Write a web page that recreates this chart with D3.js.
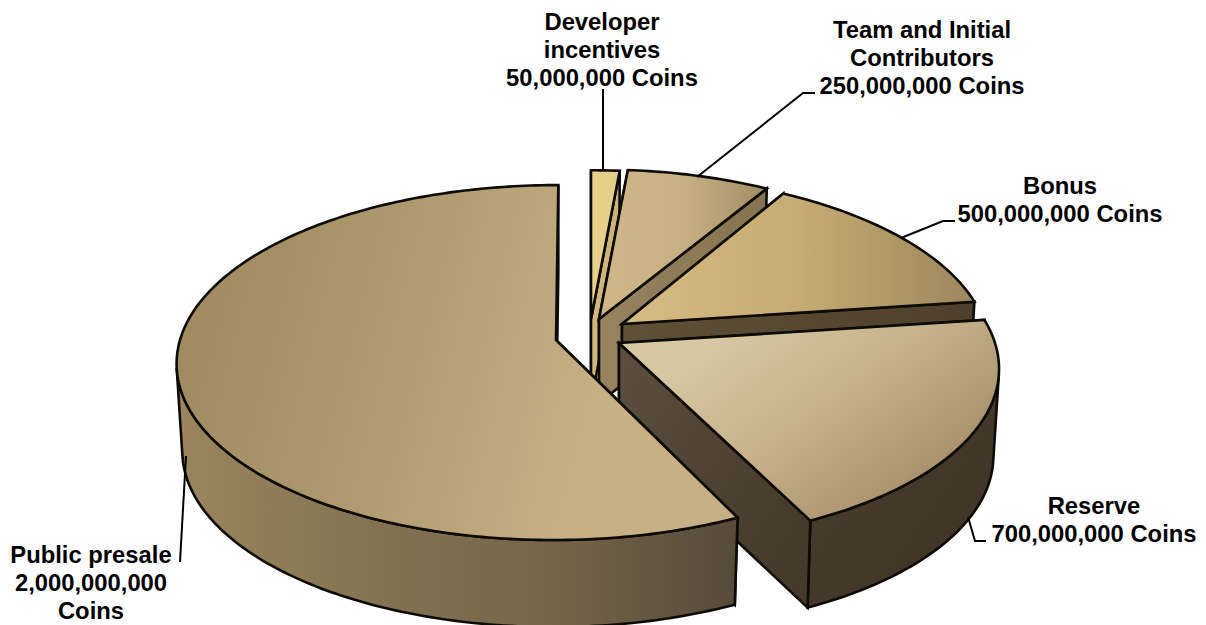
<!DOCTYPE html>
<html>
<head>
<meta charset="utf-8">
<script src="https://cdn.jsdelivr.net/npm/d3@7"></script>
<style>
  html, body { margin: 0; padding: 0; background: #fff; }
  svg { display: block; }
  text { font-family: "Liberation Sans", Arial, sans-serif; font-weight: 700; font-size: 23.8px; fill: #000; text-anchor: middle; }
</style>
</head>
<body>
<svg id="chart" width="1206" height="625"></svg>
<script>
// Coin allocation, clockwise from twelve o'clock
const categories = ["Developer incentives", "Team and Initial Contributors", "Bonus", "Reserve", "Public presale"];
const coins = [50000000, 250000000, 500000000, 700000000, 2000000000];
const labelLines = [
  ["Developer", "incentives", "50,000,000 Coins"],
  ["Team and Initial", "Contributors", "250,000,000 Coins"],
  ["Bonus", "500,000,000 Coins"],
  ["Reserve", "700,000,000 Coins"],
  ["Public presale", "2,000,000,000", "Coins"]
];

// Where each exploded slice sits on the page, how much perspective shrinks it,
// and the sideways lean it picks up from being pushed off the view axis
const sliceApex = [[591, 319], [599, 319], [622, 324], [619, 343], [556, 340]];
const sliceScale = [0.96, 0.965, 0.965, 1, 1];
const sliceLean = [0, 0, 0.05, 0.04, -0.015];
const labelAnchors = [[602, 30], [922, 38], [1060, 194], [1094, 514], [91, 563]];
const leaders = [
  [[603, 89], [603, 170]],
  [[697, 177], [803, 93], [815, 93]],
  [[901, 238], [943, 221], [955, 221]],
  [[968, 517], [975, 541], [986, 541]],
  [[186, 456], [180, 562]]
];

// Surface shading: [x1, y1, x2, y2, stops]
const topFills = [
  [590, 170, 622, 170, ["#e9d38b", "#e3cc88"]],
  [600, 170, 770, 170, ["#cfb78a", "#c9b084", "#a08a63"]],
  [620, 190, 975, 190, ["#d6bd84", "#c6ab72", "#9c865e"]],
  [720, 335, 860, 525, ["#d8c7a3", "#c6b18b", "#a9926d"]],
  [210, 300, 600, 400, ["#a18b61", "#b19b71", "#c8b085"]]
];
const sideFills = [
  [590, 170, 620, 170, ["#d0b97f", "#c9b17b"]],
  [600, 170, 770, 170, ["#97835f", "#85724f"]],
  [620, 190, 975, 190, ["#5f5037", "#4e402c"]],
  [620, 340, 1000, 600, ["#5c4f40", "#483c2d", "#3d3225"]],
  [177, 400, 737, 400, ["#9a855d", "#857352", "#74664a", "#574a39"]]
];

const RX = 376, RY = 174.6, PERSPECTIVE = 0.127, DEPTH = 87, BASE_SHRINK = 0.985;
const OUTLINE = "#0d0b08", OUTLINE_WIDTH = 2.6;

const svg = d3.select("#chart");
const defs = svg.append("defs");

function addGradient(id, spec) {
  const [x1, y1, x2, y2, stops] = spec;
  const g = defs.append("linearGradient").attr("id", id)
    .attr("gradientUnits", "userSpaceOnUse")
    .attr("x1", x1).attr("y1", y1).attr("x2", x2).attr("y2", y2);
  const offset = d3.scaleLinear().domain([0, stops.length - 1]).range([0, 1]);
  stops.forEach((c, i) => g.append("stop").attr("offset", offset(i)).attr("stop-color", c));
}

// Perspective projection of a disc point: angle 0 points away from the viewer
function project(i, angle, radius, lower) {
  const [ax, ay] = sliceApex[i];
  const s = sliceScale[i];
  const u = Math.sin(angle) * radius, v = Math.cos(angle) * radius;
  const d = 1 + PERSPECTIVE * v;
  const shrink = lower ? BASE_SHRINK : 1;
  const dy = -s * RY * v / d;
  const x = ax + s * shrink * RX * u / d + sliceLean[i] * dy;
  const y = ay + dy + (lower ? s * DEPTH : 0);
  return [x, y];
}

const path = d3.line();
const slices = d3.pie().sort(null).startAngle(0).endAngle(2 * Math.PI)(coins);

function rimAngles(a0, a1) {
  const steps = Math.max(4, Math.ceil((a1 - a0) * 60));
  const angle = d3.scaleLinear().domain([0, steps]).range([a0, a1]);
  return d3.range(steps + 1).map(angle);
}

// Rim indices where the vertical side of the drum turns edge-on to the viewer
function silhouetteIndices(up, low) {
  const cross = k => {
    const tx = up[k + 1][0] - up[k][0], ty = up[k + 1][1] - up[k][1];
    const gx = low[k][0] - up[k][0], gy = low[k][1] - up[k][1];
    return tx * gy - ty * gx;
  };
  return d3.range(up.length - 2).filter(k => cross(k) * cross(k + 1) < 0).map(k => k + 1);
}

const layer = svg.append("g")
  .attr("stroke", OUTLINE).attr("stroke-width", OUTLINE_WIDTH).attr("stroke-linejoin", "miter");

slices.forEach((sl, i) => {
  addGradient("top" + i, topFills[i]);
  addGradient("side" + i, sideFills[i]);
  const a0 = sl.startAngle, a1 = sl.endAngle;
  const sideFill = `url(#side${i})`;
  const g = layer.append("g").attr("class", "slice").attr("data-name", categories[i]);
  const radialWall = a => [project(i, 0, 0, false), project(i, a, 1, false), project(i, a, 1, true), project(i, 0, 0, true)];

  g.append("path").attr("d", path(radialWall(a0)) + "Z").attr("fill", sideFill);

  // Curved outer side: only the stretches facing the viewer are drawn
  const angles = rimAngles(a0, a1);
  const up = angles.map(a => project(i, a, 1, false));
  const low = angles.map(a => project(i, a, 1, true));
  const cuts = [0].concat(silhouetteIndices(up, low), [up.length - 1]);
  d3.pairs(cuts).forEach(([p, q]) => {
    if (Math.cos(angles[Math.round((p + q) / 2)]) > -0.2) return;
    const face = up.slice(p, q + 1).concat(low.slice(p, q + 1).reverse());
    g.append("path").attr("d", path(face) + "Z").attr("fill", sideFill);
  });

  g.append("path").attr("d", path(radialWall(a1)) + "Z").attr("fill", sideFill);
  g.append("path").attr("d", path([project(i, 0, 0, false)].concat(up)) + "Z").attr("fill", `url(#top${i})`);
});

// Leader lines and labels
svg.append("g").selectAll("path").data(leaders).join("path")
  .attr("d", d => path(d)).attr("fill", "none").attr("stroke", "#000").attr("stroke-width", 2);

const labels = svg.append("g").selectAll("text").data(labelLines).join("text")
  .attr("x", (d, i) => labelAnchors[i][0])
  .attr("y", (d, i) => labelAnchors[i][1]);
labels.selectAll("tspan").data(d => d).join("tspan")
  .attr("x", function () { return d3.select(this.parentNode).attr("x"); })
  .attr("dy", (d, k) => k === 0 ? 0 : 28.2)
  .text(d => d);
</script>
</body>
</html>
